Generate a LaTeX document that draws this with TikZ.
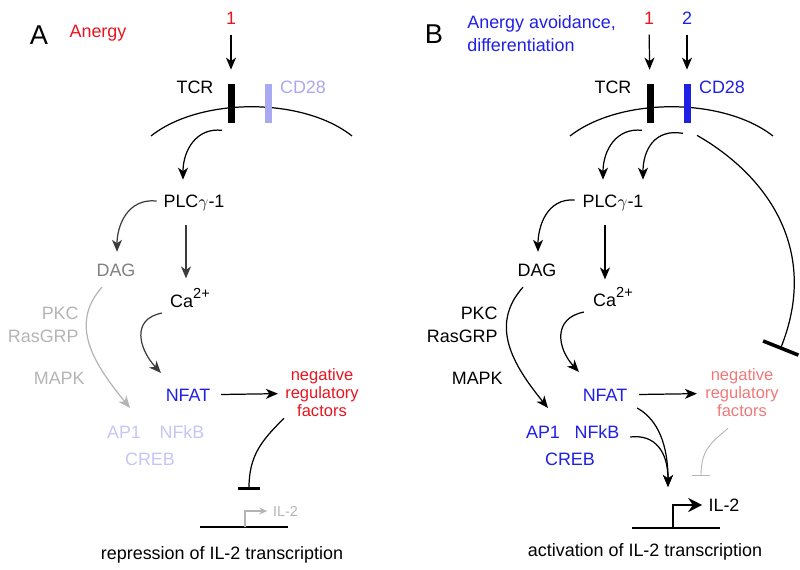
\documentclass[tikz,border=0pt]{standalone}
\usepackage{fontspec}
\setmainfont{Liberation Sans}
\usetikzlibrary{arrows.meta}

\definecolor{sigred}{HTML}{E8141E}
\definecolor{sigblue}{HTML}{1F1FE6}
\definecolor{paleblue}{HTML}{A9A9F2}
\definecolor{fadeblue}{HTML}{C6C6F6}
\definecolor{fadegrey}{HTML}{B4B4B4}
\definecolor{midgrey}{HTML}{808080}
\definecolor{darkgrey}{HTML}{3C3C3C}
\definecolor{fadered}{HTML}{F07878}

\newcommand{\calcium}{Ca{\fontsize{8.3}{9}\selectfont\raisebox{4.6pt}{2+}}}

\begin{document}
\begin{tikzpicture}[
    x=0.2mm, y=-0.2mm,
    font=\fontsize{10.2}{13}\selectfont,
    every node/.style={inner sep=0pt},
    panel/.style={font=\fontsize{15.5}{17}\selectfont},
    factors/.style={align=center, font=\fontsize{9.4}{10.2}\selectfont},
    receptor/.style={
      rectangle,
      minimum width=1.4mm,
      minimum height=7.8mm,
      fill=black
    },
    line/.style={draw, line width=0.7pt},
    membrane/.style={draw, line width=0.7pt},
    arrow/.style={line, -{Stealth[length=2.4mm, width=2mm, inset=0.7mm]}},
    blocker/.style={line, -{Bar[width=4.4mm, line width=1.5pt]}},
    promoter/.style={line, line width=0.6pt, -{Stealth[length=1.6mm, width=1.4mm]}}
  ]
  \path[use as bounding box] (0, 0) rectangle (800, 570);

  % A: anergy
  \node [panel] at (39, 35) (panelA) {A};
  \node [text=sigred] at (98, 33) (anergyA) {Anergy};
  \node [text=sigred] at (231, 18) (oneA) {1};
  \node at (195, 87) (tcrA) {TCR};
  \node [text=paleblue] at (303, 87) (cdA) {CD28};
  \path[membrane] (151, 136) .. controls (200, 97) and (303, 97) .. (352, 136);
  \node [receptor] at (231, 103.5) (tcrbarA) {};
  \node [receptor, fill=paleblue] at (268, 103.5) (cdbarA) {};
  \node at (194, 203) (plcA) {PLC$\gamma$-1};
  \node [text=midgrey] at (116, 270) (dagA) {DAG};
  \node at (190, 298) (caA) {\calcium};
  \node [text=fadegrey, align=right, anchor=east] at (79, 324.5) (pkcA) {PKC\\RasGRP};
  \node [text=fadegrey, anchor=east] at (85, 378) (mapkA) {MAPK};
  \node [text=sigblue] at (188, 395) (nfatA) {NFAT};
  \node [text=sigred, factors] at (322, 393) (negA) {negative\\regulatory\\factors};
  \node [text=fadeblue] at (124, 432) (ap1A) {AP1};
  \node [text=fadeblue] at (182, 432) (nfkbA) {NFkB};
  \node [text=fadeblue] at (150, 459) (crebA) {CREB};
  \node [text=fadegrey, font=\fontsize{8.2}{9}\selectfont] at (285.5, 511) (il2A) {IL-2};
  \node at (222, 555) (repA) {repression of IL-2 transcription};
  \coordinate (tssA) at (245, 527);
  \coordinate (blockA) at (249, 490);

  \path[line] (200, 527) -- (288, 527);
  \draw[arrow, shorten <=2mm, shorten >=2.8mm] (oneA) -- (tcrbarA);
  \draw[arrow] ([shift={(-9, 7)}]tcrbarA.south) .. controls +(-25, -3) and +(0, -30) .. ([shift={(-11, -15)}]plcA.north);
  \draw[arrow, darkgrey] ([shift={(-6.5, -2)}]plcA.west) .. controls +(-30, -3) and +(0, -25) .. ([shift={(1, -11.5)}]dagA.north);
  \draw[arrow, darkgrey] ([shift={(-8, 14)}]plcA.south) -- ([shift={(-4, -10)}]caA.north);
  \draw[arrow, darkgrey] ([shift={(-8, 5.5)}]caA.south west) .. controls +(-31, 6) and +(-22, -24) .. ([shift={(-4.5, -15.5)}]nfatA.north west);
  \draw[arrow, fadegrey] ([shift={(-14, 10.5)}]dagA.south) .. controls +(-34, 38) and +(-35, -43) .. ([shift={(6, -17.5)}]ap1A.north);
  \draw[arrow, shorten <=2.1mm, shorten >=1.4mm] (nfatA) -- (negA);
  \draw[blocker] ([shift={(-1, 1)}]negA.south west) .. controls +(-22, 22) and +(0, -35) .. (blockA);
  \draw[promoter, fadegrey, shorten >=1.1mm] (tssA) |- (il2A);

  % B: anergy avoidance
  \node [panel] at (434, 34) (panelB) {B};
  \node [text=sigblue, align=left, anchor=west] at (467, 33.5) (avoidB) {Anergy avoidance,\\differentiation};
  \node [text=sigred] at (649, 18) (oneB) {1};
  \node [text=sigblue] at (687, 18) (twoB) {2};
  \node at (613, 87) (tcrB) {TCR};
  \node [text=sigblue] at (722, 87) (cdB) {CD28};
  \path[membrane] (570, 136) .. controls (620, 97) and (723, 97) .. (773, 136);
  \node [receptor] at (650, 103.5) (tcrbarB) {};
  \node [receptor, fill=sigblue] at (687, 103.5) (cdbarB) {};
  \node at (613, 203) (plcB) {PLC$\gamma$-1};
  \node at (537, 270) (dagB) {DAG};
  \node at (613, 297) (caB) {\calcium};
  \node [align=right, anchor=east] at (498, 324.5) (pkcB) {PKC\\RasGRP};
  \node [anchor=east] at (503, 378) (mapkB) {MAPK};
  \node [text=sigblue] at (605, 395) (nfatB) {NFAT};
  \node [text=fadered, factors] at (742, 393) (negB) {negative\\regulatory\\factors};
  \node [text=sigblue] at (543, 432) (ap1B) {AP1};
  \node [text=sigblue] at (597, 432) (nfkbB) {NFkB};
  \node [text=sigblue] at (570, 459) (crebB) {CREB};
  \node at (724, 505) (il2B) {IL-2};
  \node at (645, 552) (actB) {activation of IL-2 transcription};
  \coordinate (tssB) at (673, 528);

  \path[line] (632, 528) -- (720, 528);
  \draw[arrow, shorten <=2mm, shorten >=2.8mm] (oneB) -- (tcrbarB);
  \draw[arrow, shorten <=2mm, shorten >=2.8mm] (twoB) -- (cdbarB);
  \draw[arrow] ([shift={(-8, 7)}]tcrbarB.south) .. controls +(-25, -3) and +(0, -30) .. ([shift={(-10, -15)}]plcB.north);
  \draw[arrow] ([shift={(-4, 10)}]cdbarB.south) .. controls +(-28, -5) and +(0, -30) .. ([shift={(30, -15)}]plcB.north);
  \draw[blocker, -{Bar[width=7.6mm, line width=2pt]}] ([shift={(10, 12)}]cdbarB.south) .. controls +(70, 40) and +(40, -100) .. ([shift={(1, -19)}]negB.north east);
  \draw[arrow] ([shift={(-7.5, -3)}]plcB.west) .. controls +(-28, -2) and +(0, -25) .. ([shift={(1, -11.5)}]dagB.north);
  \draw[arrow] ([shift={(-8, 14)}]plcB.south) -- ([shift={(-8, -8)}]caB.north);
  \draw[arrow] ([shift={(-9, 5.5)}]caB.south west) .. controls +(-31, 6) and +(-22, -24) .. ([shift={(-3.5, -16.5)}]nfatB.north west);
  \draw[arrow] ([shift={(-14, 10.5)}]dagB.south) .. controls +(-34, 38) and +(-35, -43) .. ([shift={(5, -17.5)}]ap1B.north);
  \draw[arrow, shorten <=2.3mm, shorten >=1.6mm] (nfatB) -- (negB);
  \draw[arrow] ([shift={(9.5, 6.5)}]nfatB.south east) .. controls +(22, 12) and +(0, -40) .. ([shift={(-5, -41)}]tssB);
  \draw[arrow] ([shift={(10.5, 5)}]nfkbB.east) .. controls +(25, -3) and +(0, -35) .. ([shift={(-5, -41)}]tssB);
  \draw[line, fadegrey, line width=0.5pt, -{Bar[width=3.6mm]}] ([shift={(-14, 11)}]negB.south) .. controls +(-18, 15) and +(0, -25) .. ([shift={(28, -52)}]tssB);
  \draw[promoter, line width=1.7pt, -{Stealth[length=2.8mm, width=2.8mm]}, shorten >=1.2mm] (tssB) |- (il2B);
\end{tikzpicture}
\end{document}
